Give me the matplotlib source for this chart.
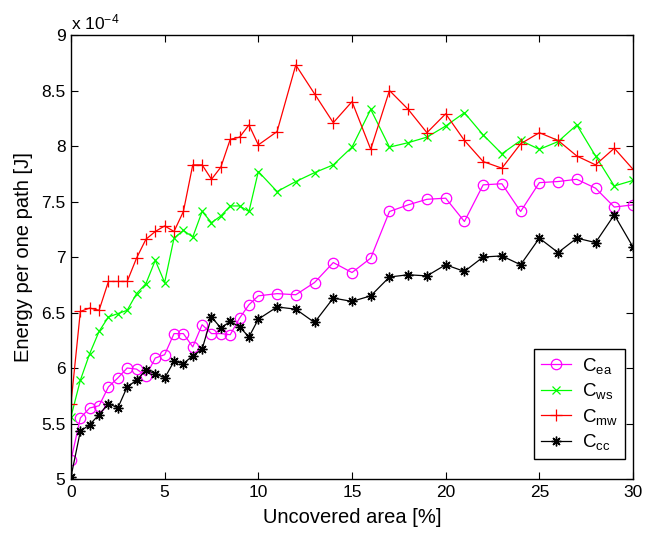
import matplotlib
matplotlib.use('Agg')
import matplotlib.pyplot as plt

plt.rcParams['font.family'] = ['Liberation Sans', 'DejaVu Sans']
plt.rcParams['mathtext.fontset'] = 'custom'
plt.rcParams['mathtext.rm'] = 'Liberation Sans'
plt.rcParams['mathtext.it'] = 'Liberation Sans'

# uncovered area [%]: 0.5 steps up to 10, then 1 steps
area = [0, 0.5, 1, 1.5, 2, 2.5, 3, 3.5, 4, 4.5, 5, 5.5, 6, 6.5, 7, 7.5, 8, 8.5, 9, 9.5, 10,
        11, 12, 13, 14, 15, 16, 17, 18, 19, 20, 21, 22, 23, 24, 25, 26, 27, 28, 29, 30]

# energy per path, in units of 1e-4 J
c_ea = [5.17, 5.55, 5.64, 5.66, 5.83, 5.91, 6.00, 5.99, 5.93, 6.09, 6.12, 6.31, 6.31, 6.19, 6.39,
        6.31, 6.31, 6.30, 6.45, 6.57, 6.65, 6.67, 6.66, 6.77, 6.95, 6.86, 6.99, 7.41, 7.47, 7.52,
        7.53, 7.32, 7.65, 7.66, 7.41, 7.67, 7.68, 7.70, 7.62, 7.45, 7.47]
c_ws = [5.56, 5.89, 6.13, 6.33, 6.46, 6.49, 6.52, 6.67, 6.76, 6.97, 6.77, 7.17, 7.24, 7.18, 7.41,
        7.31, 7.37, 7.46, 7.46, 7.41, 7.77, 7.59, 7.68, 7.76, 7.83, 7.99, 8.33, 7.99, 8.03, 8.08,
        8.18, 8.30, 8.10, 7.93, 8.05, 7.97, 8.04, 8.19, 7.91, 7.64, 7.69]
c_mw = [5.68, 6.51, 6.54, 6.52, 6.78, 6.78, 6.78, 6.99, 7.16, 7.23, 7.28, 7.23, 7.41, 7.83, 7.83,
        7.70, 7.81, 8.06, 8.08, 8.19, 8.01, 8.13, 8.73, 8.47, 8.21, 8.40, 7.97, 8.50, 8.33, 8.12,
        8.29, 8.05, 7.86, 7.80, 8.02, 8.12, 8.05, 7.91, 7.83, 7.98, 7.79]
c_cc = [5.02, 5.43, 5.49, 5.58, 5.68, 5.64, 5.83, 5.89, 5.98, 5.95, 5.91, 6.06, 6.04, 6.11, 6.17,
        6.46, 6.36, 6.42, 6.37, 6.28, 6.44, 6.55, 6.53, 6.41, 6.63, 6.60, 6.65, 6.82, 6.84, 6.83,
        6.93, 6.87, 7.00, 7.01, 6.93, 7.17, 7.04, 7.17, 7.13, 7.38, 7.09]

fig = plt.figure(figsize=(6.53, 5.37), dpi=100)
ax = fig.add_axes([0.1087, 0.108, 0.8607, 0.8268])

lw = 0.9
ax.plot(area, c_ea, color=(1, 0, 1), marker='o', mfc='none', ms=7.5, mew=0.9, lw=lw, label=r'C$_{\mathrm{ea}}$')
ax.plot(area, c_ws, color=(0, 1, 0), marker='x', ms=6, mew=0.9, lw=lw, label=r'C$_{\mathrm{ws}}$')
ax.plot(area, c_mw, color=(1, 0, 0), marker='+', ms=8, mew=0.9, lw=lw, label=r'C$_{\mathrm{mw}}$')
# asterisk marker: 8 arms from the centre
ax.plot(area, c_cc, color='black', marker=(8, 2, 0), ms=7, mew=1.0, lw=lw, label=r'C$_{\mathrm{cc}}$')

ax.set_xlim(0, 30)
ax.set_ylim(5, 9)
ax.set_xticks([0, 5, 10, 15, 20, 25, 30])
ax.set_yticks([5, 5.5, 6, 6.5, 7, 7.5, 8, 8.5, 9])
ax.set_yticklabels(['5', '5.5', '6', '6.5', '7', '7.5', '8', '8.5', '9'])
ax.tick_params(direction='in', length=5, width=0.8, top=True, right=True, labelsize=12.5, pad=4)
for sp in ax.spines.values():
    sp.set_linewidth(1.0)

ax.set_xlabel('Uncovered area [%]', fontsize=14.5, labelpad=6)
ax.set_ylabel('Energy per one path [J]', fontsize=14.5, labelpad=6)
ax.text(0.0, 1.005, r'x 10$^{-4}$', transform=ax.transAxes, fontsize=12.5, ha='left', va='bottom')

leg = ax.legend(loc='lower right', bbox_to_anchor=(0.9858, 0.045), borderaxespad=0, fontsize=13.5,
                fancybox=False, framealpha=1, edgecolor='black', handlelength=1.6,
                labelspacing=0.3, borderpad=0.35, handletextpad=0.6)
leg.get_frame().set_linewidth(1.0)

fig.savefig('out.png', dpi=100)
